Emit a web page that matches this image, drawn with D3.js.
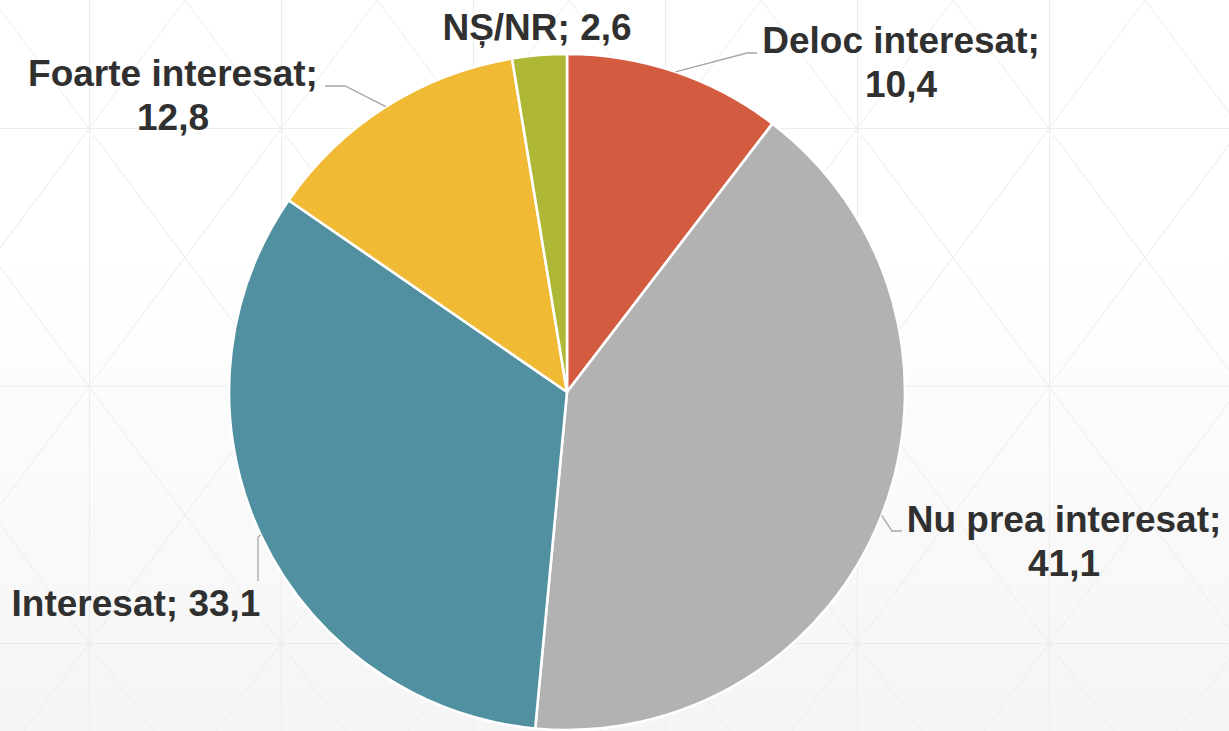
<!DOCTYPE html>
<html lang="ro">
<head>
<meta charset="utf-8">
<title>Interes</title>
<style>
  body { margin: 0; background: #fff; }
  svg { display: block; }
  .labels text {
    font-family: "Liberation Sans", Arial, sans-serif;
    font-weight: bold;
    font-size: 37px;
    fill: #303030;
  }
  .leader { fill: none; stroke: #a6a6a6; stroke-width: 1.3px; }
  .grid line { stroke: #ececec; stroke-width: 1px; }
</style>
</head>
<body>
<svg width="1229" height="731"></svg>
<script src="https://d3js.org/d3.v7.min.js"></script>
<script>
// data
var categories = ["Deloc interesat", "Nu prea interesat", "Interesat", "Foarte interesat", "NȘ/NR"];
var values = [10.4, 41.1, 33.1, 12.8, 2.6];
var colors = ["#d35b40", "#b2b2b2", "#5090a0", "#f0ba35", "#aeb836"];

// where each label sits (first baseline, text centre) and its leader bend points
var labelLayout = [
  {x: 901, y: 53, wrap: true, leader: [[747, 53], [757, 53]]},
  {x: 1064, y: 532, wrap: true, leader: [[892, 531], [902, 531]]},
  {x: 136, y: 616, wrap: false, leader: [[258, 537], [258, 581]]},
  {x: 173, y: 86, wrap: true, leader: [[345, 86], [325, 86]]},
  {x: 537, y: 40, wrap: false, leader: null}
];

var svg = d3.select("svg"),
    width = +svg.attr("width"),
    height = +svg.attr("height");

var cx = 567, cy = 392, radius = 338;

// background
var defs = svg.append("defs");
var grad = defs.append("linearGradient").attr("id", "bg")
    .attr("x1", 0).attr("y1", 0).attr("x2", 0).attr("y2", 1);
grad.append("stop").attr("offset", "0.35").attr("stop-color", "#ffffff");
grad.append("stop").attr("offset", "1").attr("stop-color", "#f5f5f5");
svg.append("rect").attr("width", width).attr("height", height).attr("fill", "url(#bg)");

// faint triangle lattice
var grid = svg.append("g").attr("class", "grid");
var gdx = 192, gdy = 257.5, gx0 = 89, gy0 = 128;
var slope = (gdy / 2) / (gdx / 2);
for (var x = gx0; x < width; x += gdx) {
  grid.append("line").attr("x1", x + 0.5).attr("x2", x + 0.5).attr("y1", 0).attr("y2", height);
}
for (var y = gy0; y < height; y += gdy) {
  grid.append("line").attr("x1", 0).attr("x2", width).attr("y1", y + 0.5).attr("y2", y + 0.5);
}
var run = height / slope;
for (var ax = gx0 + gdx / 2 - gdx * 6; ax < width + run; ax += gdx) {
  grid.append("line").attr("x1", ax).attr("y1", 0).attr("x2", ax + run).attr("y2", height);
  grid.append("line").attr("x1", ax).attr("y1", 0).attr("x2", ax - run).attr("y2", height);
}

// pie
var data = categories.map(function(c, i) { return {name: c, value: values[i], color: colors[i]}; });
var pie = d3.pie().sort(null).value(function(d) { return d.value; });
var arc = d3.arc().innerRadius(0).outerRadius(radius);
var arcs = pie(data);

var g = svg.append("g").attr("transform", "translate(" + cx + "," + cy + ")");
g.selectAll("path").data(arcs).enter().append("path")
    .attr("d", arc)
    .attr("fill", function(d) { return d.data.color; })
    .attr("stroke", "#fff")
    .attr("stroke-width", 2.6)
    .attr("stroke-linejoin", "round");

// leaders
var fmt = function(v) { return d3.format(".1f")(v).replace(".", ","); };
arcs.forEach(function(d, i) {
  var lay = labelLayout[i];
  if (!lay.leader) return;
  var mid = (d.startAngle + d.endAngle) / 2;
  var pts = [[cx + radius * Math.sin(mid), cy - radius * Math.cos(mid)]].concat(lay.leader);
  svg.append("path").attr("class", "leader").attr("d", d3.line()(pts));
});

// labels
var labels = svg.append("g").attr("class", "labels");
arcs.forEach(function(d, i) {
  var lay = labelLayout[i];
  var rows = lay.wrap ? [d.data.name + ";", fmt(d.data.value)]
                      : [d.data.name + "; " + fmt(d.data.value)];
  var t = labels.append("text").attr("text-anchor", "middle");
  rows.forEach(function(r, j) {
    t.append("tspan").attr("x", lay.x).attr("y", lay.y + j * 44).text(r);
  });
});
</script>
</body>
</html>
